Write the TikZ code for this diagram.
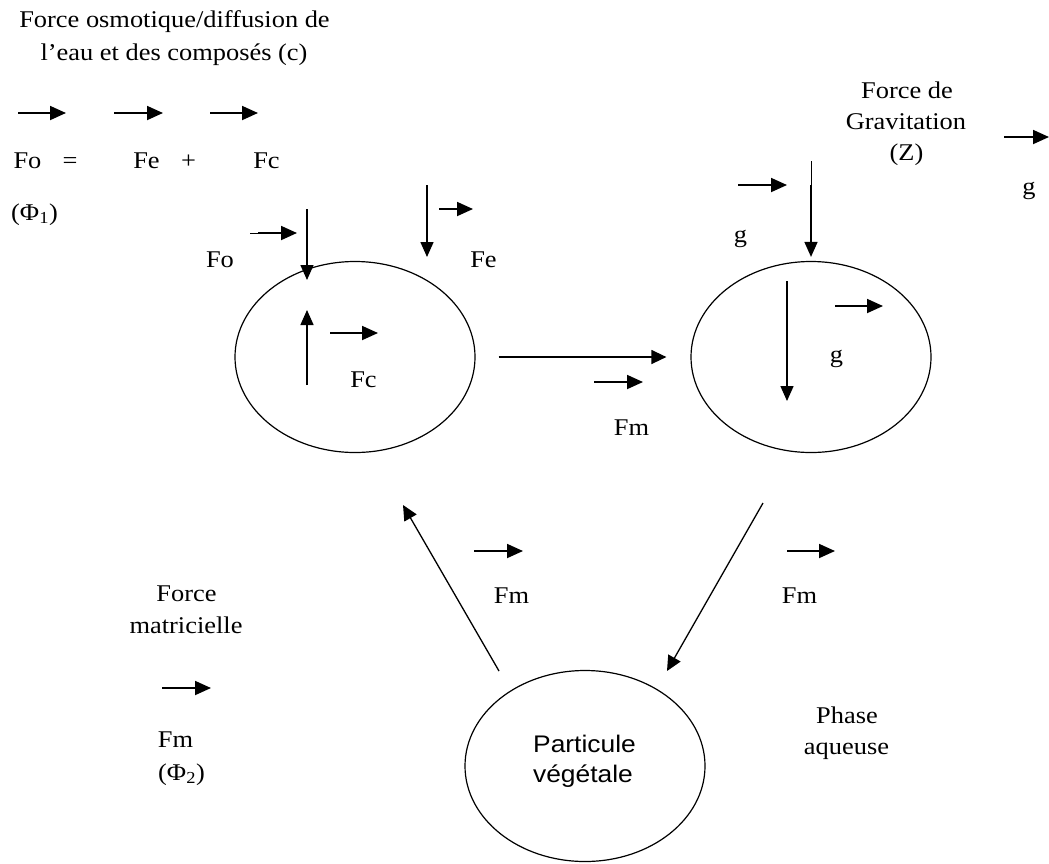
\documentclass[tikz,border=0pt]{standalone}
\usepackage{fontspec}
\setmainfont{Liberation Serif}
\newfontfamily\arialf{Liberation Sans}
\usetikzlibrary{arrows.meta,shapes.geometric}
\newcommand\wideT[1]{\scalebox{1.1}[1]{#1}}
\newcommand\lbf{\fontsize{24}{31}\selectfont}
\tikzset{
  ell/.style={draw, ellipse, minimum width=240pt, minimum height=191pt, inner sep=0pt, line width=1.2pt},
  lbl/.style={inner sep=0pt, anchor=base, font=\lbf},
  slbl/.style={inner sep=0pt, anchor=base, font=\arialf\fontsize{24}{30}\selectfont},
  vec/.style={line width=1.8pt, -{Triangle[length=16pt,width=14pt]}},
  vert/.style={line width=1.5pt, -{Triangle[length=15pt,width=13pt]}},
  conn/.style={line width=1.3pt, -{Triangle[length=15pt,width=14pt]}},
  thin/.style={line width=0.6pt}
}
\begin{document}
\begin{tikzpicture}[x=1pt,y=-1pt]
\useasboundingbox[fill=white] (0,0) rectangle (1049,863);

% ellipses
\node[ell] (e1) at (355,357) {};
\node[ell] (e2) at (811,357) {};
\node[ell] (e3) at (585,766) {};
\node[slbl] (pv1) at (584.5,752) {\wideT{Particule}};
\node[slbl] (pv2) at (583,782) {\wideT{végétale}};

% top-left legend
\node[lbl] (t1) at (174.5,27) {\wideT{Force osmotique/diffusion de}};
\node[lbl] (t2) at (174,60) {\wideT{l’eau et des composés (c)}};
\draw[vec] (18,113) -- (66,113);
\draw[vec] (114,113) -- (163,113);
\draw[vec] (210,113) -- (258,113);
\node[lbl] (eqfo) at (27.5,168) {\wideT{Fo}};
\node[lbl] (eqeq) at (70,168) {\wideT{=}};
\node[lbl] (eqfe) at (146.5,168) {\wideT{Fe}};
\node[lbl] (eqplus) at (188.5,168) {\wideT{+}};
\node[lbl] (eqfc) at (266.5,168) {\wideT{Fc}};
\node[lbl] (phi1) at (34.5,220) {\wideT{(Φ\textsubscript{1})}};

% forces on first ellipse
\draw[thin] (250,233) -- (260,233);
\draw[vec] (258,233) -- (297,233);
\node[lbl] (lfo) at (220,267) {\wideT{Fo}};
\draw[vert] (307,209) -- (307,280);
\draw[vert] (427,185) -- (427,257);
\draw[vec] (439,209) -- (473,209);
\node[lbl] (lfe) at (483.5,267) {\wideT{Fe}};
\draw[vert] (307,385) -- (307,310);
\draw[vec] (330,333) -- (378,333);
\node[lbl] (lfc) at (363.5,387) {\wideT{Fc}};

% connector e1 -> e2
\draw[conn, shorten <=23pt, shorten >=24pt] (e1.east) -- (e2.west);
\draw[vec] (594,382) -- (643,382);
\node[lbl] (lfm1) at (631.5,435) {\wideT{Fm}};

% gravitation
\node[lbl] (g1) at (907,98) {\wideT{Force de}};
\node[lbl] (g2) at (906,129) {\wideT{Gravitation}};
\node[lbl] (g3) at (906.5,160) {\wideT{(Z)}};
\draw[vec] (1004,137) -- (1049,137);
\node[lbl] (gr) at (1029,194) {\wideT{g}};
\draw[vec] (738,185) -- (787,185);
\node[lbl] (gl) at (740.5,242) {\wideT{g}};
\coordinate (gtop) at (811,185);
\draw[thin] (811,161) -- (811,186);
\draw[vert, shorten >=4pt] (gtop) -- (e2.north);
\draw[vert] (787,281) -- (787,401);
\draw[vec] (835,306) -- (883,306);
\node[lbl] (gin) at (836.5,362) {\wideT{g}};

% connectors with particle
\coordinate (d1s) at (499,671);
\coordinate (d1e) at (403,505);
\coordinate (d2s) at (763,503);
\coordinate (d2e) at (667,671);
\draw[conn] (d1s) -- (d1e);
\draw[conn] (d2s) -- (d2e);
\draw[vec] (474,551) -- (523,551);
\node[lbl] (lfm2) at (511.5,603) {\wideT{Fm}};
\draw[vec] (787,551) -- (835,551);
\node[lbl] (lfm3) at (799.5,603) {\wideT{Fm}};

% force matricielle legend
\node[lbl] (m1) at (186.5,601) {\wideT{Force}};
\node[lbl] (m2) at (186,633) {\wideT{matricielle}};
\draw[vec] (162,688) -- (211,688);
\node[lbl] (m3) at (175.5,747) {\wideT{Fm}};
\node[lbl] (phi2) at (181.5,780) {\wideT{(Φ\textsubscript{2})}};

% phase aqueuse
\node[lbl] (pa1) at (847,723) {\wideT{Phase}};
\node[lbl] (pa2) at (846.5,754) {\wideT{aqueuse}};
\end{tikzpicture}
\end{document}
